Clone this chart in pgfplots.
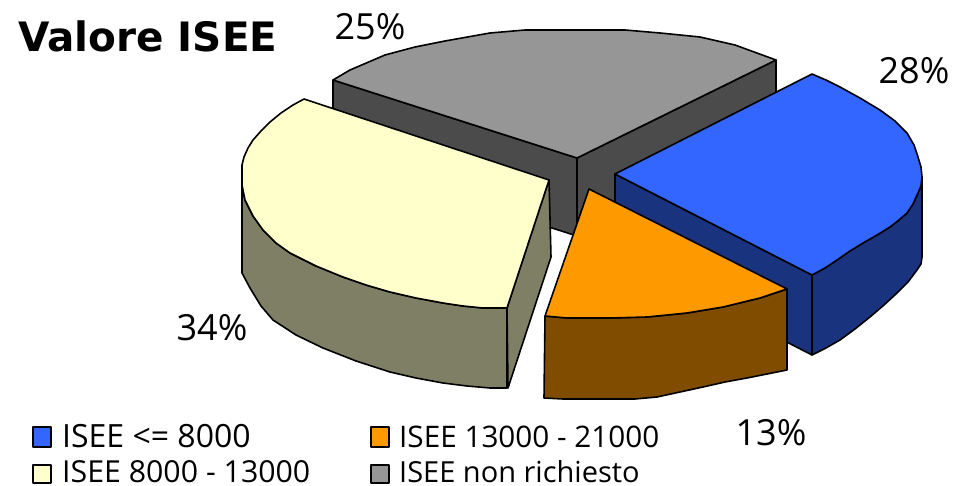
\documentclass[border=0pt]{standalone}
\usepackage{pgfplots}
\usepackage{fontspec}
\setmainfont{Open Sans}
\newfontfamily\titlefont{DejaVu Sans}
\pgfplotsset{compat=1.18}
\definecolor{bluetop}{HTML}{3366FF}\definecolor{bluewall}{HTML}{19337F}
\definecolor{orgtop}{HTML}{FF9900}\definecolor{orgwall}{HTML}{7F4C00}
\definecolor{yeltop}{HTML}{FFFFCC}\definecolor{yelwall}{HTML}{7F7F66}
\definecolor{graytop}{HTML}{969696}\definecolor{graywall}{HTML}{4B4B4B}
\begin{document}
\begin{tikzpicture}
\begin{axis}[scale only axis,width=953pt,height=486pt,xmin=0,xmax=953,ymin=0,ymax=486,y dir=reverse,
  axis lines=none,clip=false,
  every axis plot/.append style={draw=black,line width=1.6pt,line join=round,mark=none}]
\path (axis cs:0,0) (axis cs:953,486);
% gray
\addplot[fill=graywall] coordinates {(333,80)(577,158)(776,60)(776,138)(577,236)(333,158)} --cycle;
\addplot[draw=black,line width=1.6pt] coordinates {(577,158)(577,236)};
\addplot[fill=graytop] coordinates {(333,80)(350,70)(385,55)(415,47)(445,41)(490,33)(525,30)(625,30)(660,33)(700,37)(735,45)(776,60)(577,158)} --cycle;
% blue
\addplot[fill=bluewall] coordinates {(615,174)(812,275)(812,355)(615,254)} --cycle;
\addplot[fill=bluewall] coordinates {(812,275)(825,268)(837,260)(850,251)(863,243)(877,235)(890,227)(899,220)(907,213)(913,204)(918,193)(921,186)(922,177)(922,257)(921,264)(917,270)(908,282)(897,293)(884,305)(870,317)(855,329)(840,340)(826,348)(812,355)} --cycle;
\addplot[fill=bluetop] coordinates {(615,174)(812,74)(826,80)(840,87)(860,98)(880,110)(895,121)(907,133)(914,145)(918,157)(921,167)(922,177)(921,186)(918,193)(913,204)(907,213)(899,220)(890,227)(877,235)(863,243)(850,251)(837,260)(825,268)(812,275)} --cycle;
% yellow
\addplot[fill=yelwall] coordinates {(507,308)(549,180)(551,257)(508,388)} --cycle;
\addplot[fill=yelwall] coordinates {(242,173)(242,185)(245,200)(253,216)(263,230)(276,243)(290,253)(316,266)(343,277)(366,285)(390,292)(416,298)(443,303)(463,306)(483,308)(507,308)(507,388)(490,388)(467,386)(443,383)(416,378)(390,372)(356,361)(323,348)(296,335)(273,320)(261,306)(250,288)(242,273)} --cycle;
\addplot[fill=yeltop] coordinates {(549,180)(507,308)(483,308)(463,306)(443,303)(416,298)(390,292)(366,285)(343,277)(316,266)(290,253)(276,243)(263,230)(253,216)(245,200)(242,185)(242,173)(242,165)(244,157)(248,148)(253,140)(261,131)(270,122)(281,113)(293,105)(304,99)} --cycle;
% orange
\addplot[fill=orgwall] coordinates {(545,316)(567,318)(610,318)(647,317)(687,313)(723,307)(760,298)(787,289)(787,370)(767,374)(747,378)(725,382)(703,387)(680,392)(657,397)(635,399)(613,399)(563,399)(544,398)} --cycle;
\addplot[fill=orgtop] coordinates {(589,189)(787,289)(760,298)(723,307)(687,313)(647,317)(610,318)(567,318)(545,316)} --cycle;
% legend swatches
\addplot[fill=bluetop,line width=2.2pt] coordinates {(33,427)(51,427)(51,447)(33,447)} --cycle;
\addplot[fill=orgtop,line width=2.2pt] coordinates {(371,427)(389,427)(389,447)(371,447)} --cycle;
\addplot[fill=yeltop,line width=2.2pt] coordinates {(33,465)(51,465)(51,483)(33,483)} --cycle;
\addplot[fill=graytop,line width=2.2pt] coordinates {(371,465)(389,465)(389,483)(371,483)} --cycle;
% text
\node[anchor=base west,font=\titlefont\bfseries\fontsize{40.5}{41}\selectfont,inner sep=0pt] at (axis cs:18,52) {Valore ISEE};
\tikzset{lab/.style={anchor=base,font=\fontsize{36}{36}\selectfont,inner sep=0pt}}
\node[lab] at (axis cs:370,40) {25\%};
\node[lab] at (axis cs:914,84) {28\%};
\node[lab] at (axis cs:212,340) {34\%};
\node[lab] at (axis cs:771,445) {13\%};
\tikzset{leg/.style={anchor=base west,inner sep=0pt}}
\node[leg,font=\fontsize{32}{32}\selectfont] at (axis cs:62,447) {ISEE <= 8000};
\node[leg,font=\fontsize{29.7}{30}\selectfont] at (axis cs:399,447) {ISEE 13000 - 21000};
\node[leg,font=\fontsize{30.3}{30}\selectfont] at (axis cs:62,482) {ISEE 8000 - 13000};
\node[leg,font=\fontsize{29}{30}\selectfont] at (axis cs:399,482) {ISEE non richiesto};
\end{axis}
\end{tikzpicture}
\end{document}
